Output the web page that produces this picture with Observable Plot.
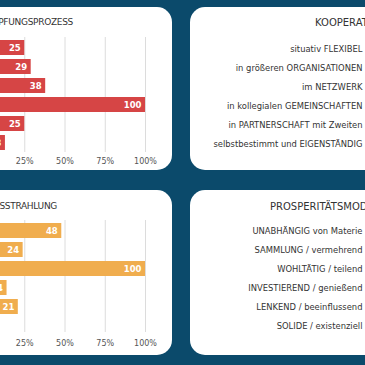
<!DOCTYPE html>
<html><head><meta charset="utf-8">
<script src="https://cdn.jsdelivr.net/npm/d3@7"></script>
<script src="https://cdn.jsdelivr.net/npm/@observablehq/plot@0.6"></script>
<style>
html,body{margin:0;padding:0;background:#0b4a6b;}
#root{position:relative;width:365px;height:365px;overflow:hidden;background:#0b4a6b;font-family:"DejaVu Sans",sans-serif;}
.panel{position:absolute;background:#fff;border-radius:15px;overflow:hidden;}
.panel svg{position:absolute;left:0;top:0;}
.title{position:absolute;white-space:nowrap;font-size:9px;letter-spacing:-0.3px;color:#333;line-height:1;}
.title.r{font-size:10px;letter-spacing:0;}
</style></head><body><div id="root"></div>
<script>
// ---- data ----
const schoepfTitle = "SCHÖPFUNGSPROZESS";
const schoepfCats = ["S1", "S2", "S3", "S4", "S5", "S6"];
const schoepfValues = [25, 29, 38, 100, 25, 13];

const ausTitle = "AUSSTRAHLUNG";
const ausCats = ["A1", "A2", "A3", "A4", "A5", "A6"];
const ausValues = [48, 24, 100, 14, 21, 6];

const koopTitle = "KOOPERATION";
const koopLabels = ["situativ FLEXIBEL", "in größeren ORGANISATIONEN", "im NETZWERK", "in kollegialen GEMEINSCHAFTEN", "in PARTNERSCHAFT mit Zweiten", "selbstbestimmt und EIGENSTÄNDIG"];

const prospTitle = "PROSPERITÄTSMODELL";
const prospLabels = ["UNABHÄNGIG von Materie", "SAMMLUNG / vermehrend", "WOHLTÄTIG / teilend", "INVESTIEREND / genießend", "LENKEND / beeinflussend", "SOLIDE / existenziell"];

const xTicks = [25, 50, 75, 100];

// ---- drawing ----
const FONT = '"DejaVu Sans",sans-serif';
const root = document.getElementById("root");

function panel(left, top, width, height) {
  const d = document.createElement("div");
  d.className = "panel";
  Object.assign(d.style, {left: left + "px", top: top + "px", width: width + "px", height: height + "px"});
  root.appendChild(d);
  return d;
}
function title(text, pos, cls) {
  const t = document.createElement("div");
  t.className = "title" + (cls ? " " + cls : "");
  t.textContent = text;
  for (const k in pos) t.style[k] = pos[k] + "px";
  root.appendChild(t);
}

function barChart(el, cats, vals, color, o) {
  const data = cats.map((c, i) => ({cat: c, v: vals[i]}));
  const svg = Plot.plot({
    width: o.w, height: o.h,
    marginLeft: o.ml, marginRight: o.mr, marginTop: o.mt, marginBottom: o.mb,
    style: {fontFamily: FONT, background: "transparent", overflow: "visible"},
    x: {domain: [0, 100], axis: null, label: null},
    y: {domain: cats, padding: o.p, axis: null, label: null},
    marks: [
      Plot.ruleX(xTicks, {x: d => d, stroke: "#dcdcdc", strokeWidth: 1, insetTop: o.gt, insetBottom: o.gb}),
      Plot.barX(data, {x: "v", y: "cat", fill: color}),
      Plot.text(data, {x: "v", y: "cat", text: d => String(d.v), textAnchor: "end", dx: -4, fill: "white", fontWeight: "bold", fontSize: 8.5}),
      Plot.axisX({ticks: xTicks, label: null, tickSize: 0, tickPadding: o.tp, tickFormat: d => d + "%", fontSize: 8, color: "#555", stroke: "none"})
    ]
  });
  el.appendChild(svg);
}

function labelChart(el, labels, o) {
  const svg = Plot.plot({
    width: o.w, height: o.h,
    marginLeft: 0, marginRight: o.mr, marginTop: o.mt, marginBottom: o.mb,
    style: {fontFamily: FONT, background: "transparent", overflow: "visible"},
    y: {type: "band", domain: labels, padding: o.p, axis: null, label: null},
    marks: [
      Plot.text(labels, {y: d => d, text: d => d, frameAnchor: "right", textAnchor: "end", fontSize: 8.4, fill: "#333"})
    ]
  });
  el.appendChild(svg);
}

// top-left: Schöpfungsprozess
const tl = panel(-200, 7, 372, 163);
barChart(tl, schoepfCats, schoepfValues, "#d64545", {w: 372, h: 163, ml: 184, mr: 27, mt: 26.4, mb: 14.4, p: 0.235, gt: 3.6, gb: 3.6, tp: 2});
title(schoepfTitle, {right: 292, top: 18});

// bottom-left: Ausstrahlung
const bl = panel(-200, 190, 372, 165);
barChart(bl, ausCats, ausValues, "#f0ad4e", {w: 372, h: 165, ml: 184, mr: 27, mt: 27.7, mb: 17.3, p: 0.22, gt: 2.3, gb: 5.7, tp: 2});
title(ausTitle, {right: 308, top: 201.5});

// top-right: Kooperation
const tr = panel(190, 7, 400, 163);
labelChart(tr, koopLabels, {w: 400, h: 163, mr: 228, mt: 27.4, mb: 13.4, p: 0.235});
title(koopTitle, {left: 315, top: 18}, "r");

// bottom-right: Prosperitätsmodell
const br = panel(190, 190, 400, 165);
labelChart(br, prospLabels, {w: 400, h: 165, mr: 228, mt: 27.7, mb: 16.3, p: 0.22});
title(prospTitle, {left: 270, top: 201.5}, "r");
</script></body></html>
